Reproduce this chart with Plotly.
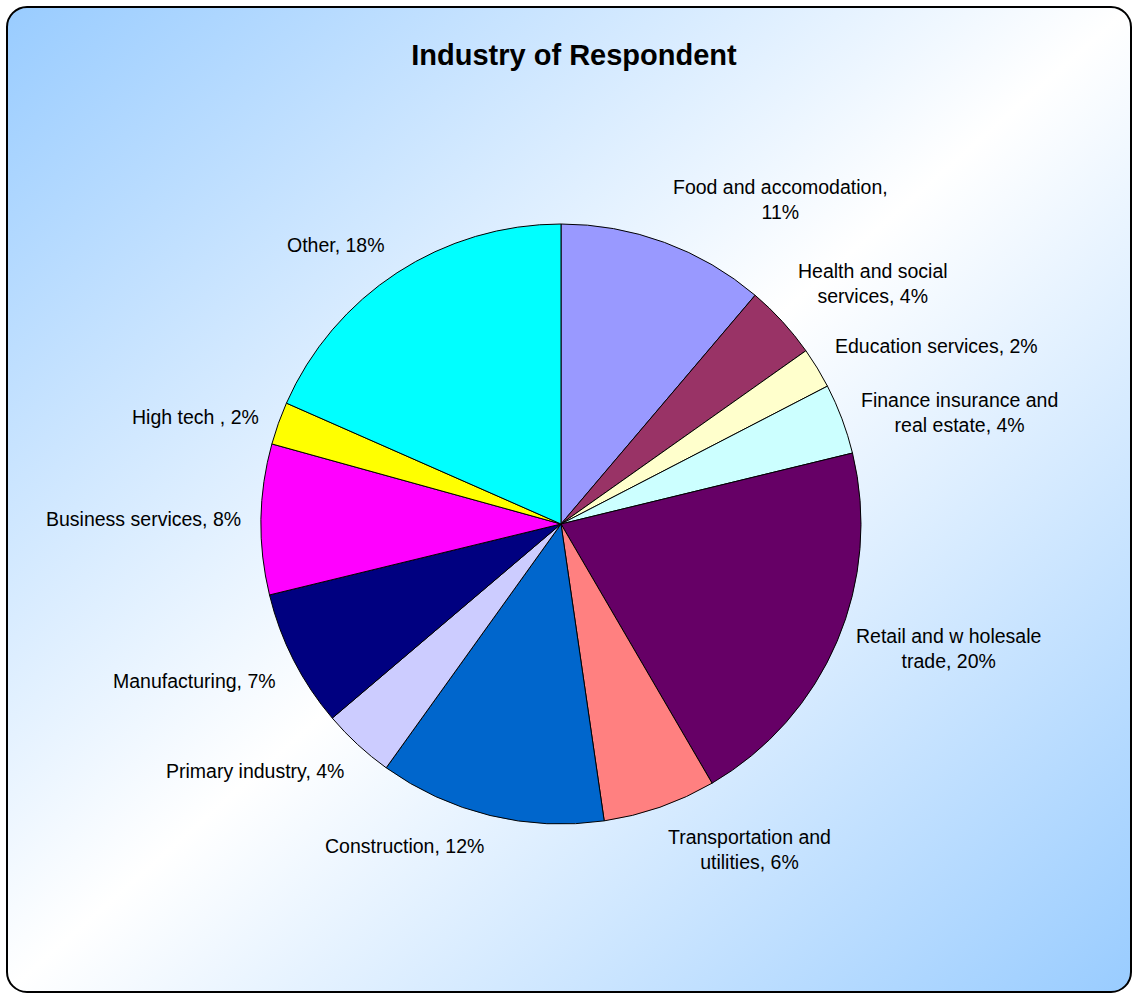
import base64
import math

import plotly.graph_objects as go

# Survey shares by industry (percent of respondents), clockwise from 12 o'clock
categories = [
    "Food and accomodation", "Health and social services", "Education services",
    "Finance insurance and real estate", "Retail and w holesale trade",
    "Transportation and utilities", "Construction", "Primary industry",
    "Manufacturing", "Business services", "High tech ", "Other",
]
shares = [11.2, 4.0, 2.2, 3.8, 20.4, 6.1, 12.2, 3.9, 7.4, 8.1, 2.3, 18.4]
colors = [
    "#9999FF", "#993366", "#FFFFCC", "#CCFFFF", "#660066", "#FF8080",
    "#0066CC", "#CCCCFF", "#000080", "#FF00FF", "#FFFF00", "#00FFFF",
]
# Data label text; {} receives the rounded percentage
label_formats = [
    "Food and accomodation,<br>{}%", "Health and social<br>services, {}%",
    "Education services, {}%", "Finance insurance and<br>real estate, {}%",
    "Retail and w holesale<br>trade, {}%", "Transportation and<br>utilities, {}%",
    "Construction, {}%", "Primary industry, {}%", "Manufacturing, {}%",
    "Business services, {}%", "High tech , {}%", "Other, {}%",
]
title_text = "Industry of Respondent"

W, H = 1133, 994
CX, CY, R = 561, 524, 300  # pie centre and radius in pixels
FONT = "Liberation Sans, Arial, sans-serif"

# Chart area: rounded frame with a diagonal blue-white-blue gradient
svg = f"""<svg xmlns="http://www.w3.org/2000/svg" width="{W}" height="{H}" viewBox="0 0 {W} {H}">
<defs><linearGradient id="g" x1="0" y1="0" x2="1" y2="1">
<stop offset="0" stop-color="#99CCFF"/><stop offset="0.5" stop-color="#FFFFFF"/>
<stop offset="1" stop-color="#99CCFF"/></linearGradient></defs>
<rect x="7" y="7" width="{W - 9}" height="{H - 9}" rx="20" ry="20" fill="url(#g)" stroke="#000" stroke-width="2"/>
</svg>"""
bg_uri = "data:image/svg+xml;base64," + base64.b64encode(svg.encode()).decode()

fig = go.Figure(
    go.Pie(
        labels=categories,
        values=shares,
        sort=False,
        direction="clockwise",
        rotation=0,
        marker=dict(colors=colors, line=dict(color="#000000", width=1)),
        textinfo="none",
        hoverinfo="label+percent",
        showlegend=False,
        domain=dict(
            x=[(CX - R) / W, (CX + R) / W],
            y=[1 - (CY + R) / H, 1 - (CY - R) / H],
        ),
    )
)

# Outside data labels placed just beyond each slice's mid-angle
total = sum(shares)
cum = 0.0
for fmt, v in zip(label_formats, shares):
    mid = (cum + v / 2) / total
    cum += v
    th = 2 * math.pi * mid
    s, c = math.sin(th), math.cos(th)
    px = CX + R * 1.06 * s
    py = CY - R * 1.06 * c
    xa = "left" if s > 0.15 else ("right" if s < -0.15 else "center")
    ya = "bottom" if c > 0.4 else ("top" if c < -0.42 else "middle")
    fig.add_annotation(
        x=px / W, y=1 - py / H, xref="paper", yref="paper",
        text=fmt.format(round(v / total * 100)),
        showarrow=False, xanchor=xa, yanchor=ya, align="center",
        font=dict(family=FONT, size=19.5, color="#000000"),
    )

fig.update_layout(
    width=W, height=H,
    margin=dict(l=0, r=0, t=0, b=0),
    paper_bgcolor="#FFFFFF",
    plot_bgcolor="rgba(0,0,0,0)",
    title=dict(
        text=f"<b>{title_text}</b>", x=574 / W, y=1 - 55 / H,
        xanchor="center", yanchor="middle",
        font=dict(family=FONT, size=29, color="#000000"),
    ),
    images=[dict(
        source=bg_uri, xref="paper", yref="paper", x=0, y=1,
        sizex=1, sizey=1, xanchor="left", yanchor="top",
        sizing="stretch", layer="below",
    )],
)

fig.write_html("out.html")
